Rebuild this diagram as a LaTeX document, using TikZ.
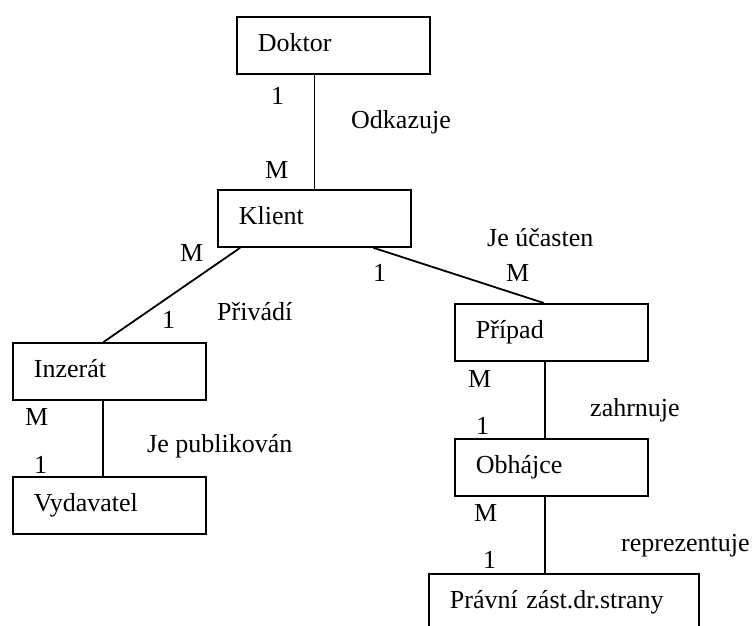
\documentclass[tikz,border=0pt]{standalone}
\usepackage{fontspec}
\setmainfont{Liberation Serif}
\usetikzlibrary{calc}

\begin{document}
\begin{tikzpicture}[x=1pt,y=-1pt,
  every node/.style={font=\fontsize{26}{30}\selectfont},
  entity/.style={draw, line width=1.8pt, rectangle, anchor=north west,
    inner xsep=21pt, inner ysep=0pt, text width=#1-42pt, align=left,
    text height=35pt, text depth=22pt},
  entity/.default=193pt,
  lbl/.style={anchor=base west, inner sep=0pt},
  link/.style={line width=1.8pt}
]
\useasboundingbox (0,0) rectangle (755,626);

% entities
\node[entity] (dok) at (236,16)  {Doktor};
\node[entity] (kli) at (217,189) {Klient};
\node[entity] (inz) at (12,342)  {Inzerát};
\node[entity] (vyd) at (12,476)  {Vydavatel};
\node[entity] (pri) at (454,303) {Případ};
\node[entity] (obh) at (454,438) {Obhájce};
\node[entity=270pt] (pra) at (428,573) {Právní zást.dr.strany};

% relationships
\draw[link] (kli.north) -- (kli.north |- dok.south);
\draw[link] ($(kli.south west)!0.119!(kli.south east)$) -- ($(inz.north west)!0.47!(inz.north east)$);
\draw[link] ($(kli.south west)!0.803!(kli.south east)$) -- ($(pri.north west)!0.461!(pri.north east)$);
\coordinate (iv) at ($(inz.south west)!0.466!(inz.south east)$);
\draw[link] (iv) -- (iv |- vyd.north);
\coordinate (po) at ($(obh.north west)!0.466!(obh.north east)$);
\draw[link] (po) -- (po |- pri.south);
\coordinate (op) at ($(obh.south west)!0.466!(obh.south east)$);
\draw[link] (op) -- (op |- pra.north);

% cardinalities and relationship names
\node[lbl] (c1) at (271,104) {1};
\node[lbl] (r1) at (351,128) {Odkazuje};
\node[lbl] (c2) at (265,178) {M};

\node[lbl] (c3) at (180,261) {M};
\node[lbl] (c4) at (162,328) {1};
\node[lbl] (r2) at (217,320) {Přivádí};

\node[lbl] (c5) at (373,281) {1};
\node[lbl] (r3) at (487,246) {Je účasten};
\node[lbl] (c6) at (506,281) {M};

\node[lbl] (c7) at (25,425) {M};
\node[lbl] (r4) at (147,452) {Je publikován};
\node[lbl] (c8) at (34,473) {1};

\node[lbl] (c9) at (468,387) {M};
\node[lbl] (r5) at (590,416) {zahrnuje};
\node[lbl] (c10) at (476,434) {1};

\node[lbl] (c11) at (474,521) {M};
\node[lbl] (r6) at (621,551) {reprezentuje};
\node[lbl] (c12) at (483,568) {1};
\end{tikzpicture}
\end{document}
